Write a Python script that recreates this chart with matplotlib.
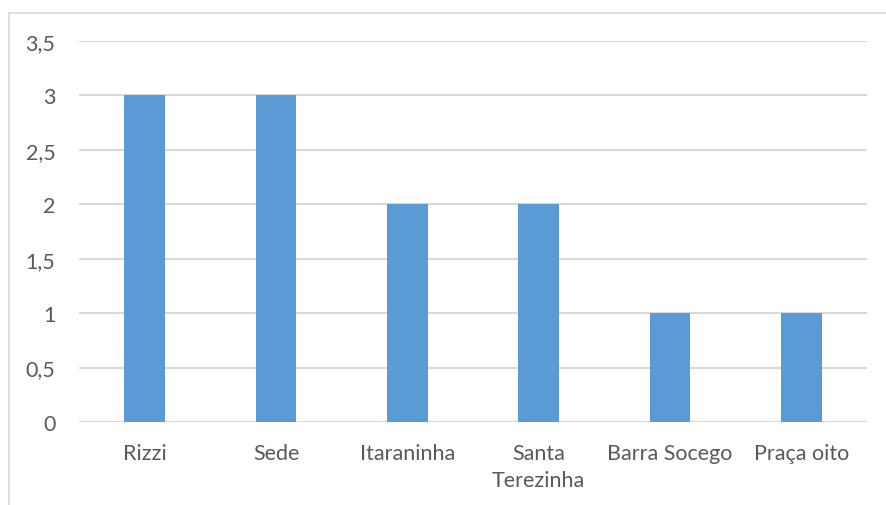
import matplotlib.pyplot as plt
from matplotlib.lines import Line2D

bairros = ['Rizzi', 'Sede', 'Itaraninha', 'Santa\nTerezinha', 'Barra Socego', 'Praça oito']
valores = [3, 3, 2, 2, 1, 1]
yticks = [0, 0.5, 1, 1.5, 2, 2.5, 3, 3.5]
ylabels = ['0', '0,5', '1', '1,5', '2', '2,5', '3', '3,5']

plt.rcParams['font.family'] = ['Lato', 'DejaVu Sans']
cinza = '#595959'

fig = plt.figure(figsize=(8.86, 5.06), dpi=100)
ax = fig.add_axes([79 / 886, 1 - 423 / 506, 788 / 886, 381 / 506])

x = range(len(bairros))
ax.bar(x, valores, width=0.31, color='#5b9bd5', zorder=3)

ax.set_xlim(-0.5, len(bairros) - 0.5)
ax.set_ylim(0, 3.5)
ax.set_yticks(yticks)
ax.set_yticklabels(ylabels)
ax.set_xticks(list(x))
ax.set_xticklabels(bairros, linespacing=1.45, va='top')

ax.grid(axis='y', color='#d9d9d9', linewidth=1.5, zorder=0)
ax.tick_params(length=0, labelsize=15.5, labelcolor=cinza)
ax.tick_params(axis='x', pad=15)
ax.tick_params(axis='y', pad=17)
for s in ax.spines.values():
    s.set_visible(False)

# moldura da área do gráfico (só borda superior e esquerda aparecem)
fig.add_artist(Line2D([8.5 / 886, 8.5 / 886], [0, 1 - 13.5 / 506],
                      transform=fig.transFigure, color='#d9d9d9', linewidth=1.2))
fig.add_artist(Line2D([8.5 / 886, 1], [1 - 13.5 / 506, 1 - 13.5 / 506],
                      transform=fig.transFigure, color='#d9d9d9', linewidth=1.2))

plt.savefig('out.png', dpi=100)
